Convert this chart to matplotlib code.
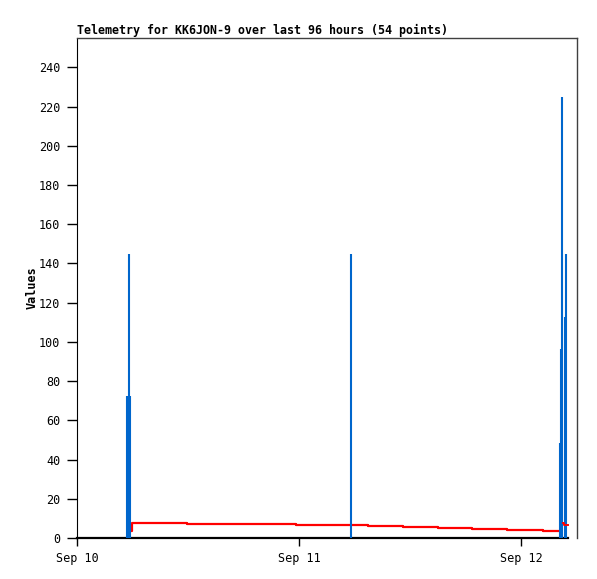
import matplotlib
matplotlib.use("Agg")
import matplotlib.pyplot as plt
import matplotlib.dates as mdates
import pandas as pd

# blue impulses
imp_times = pd.to_datetime([
    "2023-09-10 05:26", "2023-09-10 05:35", "2023-09-10 05:44",
    "2023-09-11 05:35",
    "2023-09-12 04:09", "2023-09-12 04:16", "2023-09-12 04:24",
    "2023-09-12 04:42", "2023-09-12 04:50",
])
imp_values = [72.5, 145, 72.5, 145, 48.5, 96.5, 225, 112.5, 145]

# red stepped series
red_times = pd.to_datetime([
    "2023-09-10 05:48", "2023-09-10 05:55", "2023-09-10 11:51", "2023-09-10 23:39",
    "2023-09-11 07:25", "2023-09-11 11:12", "2023-09-11 14:59", "2023-09-11 18:40",
    "2023-09-11 22:27", "2023-09-12 02:20", "2023-09-12 04:04",
])
red_values = [3.7, 7.66, 7.15, 6.38, 5.87, 5.36, 4.85, 4.34, 3.83, 3.32, 3.32]

red_tail_times = pd.to_datetime(["2023-09-12 04:31", "2023-09-12 04:36", "2023-09-12 05:03"])
red_tail_values = [7.7, 6.6, 6.6]

# black zero series
zero_times = pd.to_datetime(["2023-09-10 00:00", "2023-09-12 05:03"])
zero_values = [0, 0]

xmin = pd.Timestamp("2023-09-10 00:00")
xmax = pd.Timestamp("2023-09-12 06:00")

mono = "DejaVu Sans Mono"

fig = plt.figure(figsize=(5.97, 5.79), dpi=100)
ax = fig.add_axes([77 / 597, 41 / 579, 500 / 597, 500 / 579])

ax.plot(zero_times, zero_values, color="black", linewidth=1.6, zorder=2, clip_on=False)
ax.plot(red_times, red_values, color="#ff0000", linewidth=1.6, drawstyle="steps-post", zorder=3)
ax.plot(red_tail_times, red_tail_values, color="#ff0000", linewidth=1.4, drawstyle="steps-post", zorder=5)
ax.vlines(imp_times, 0, imp_values, color="#0066cc", linewidth=1.5, zorder=4)

ax.set_xlim(xmin, xmax)
ax.set_ylim(0, 255)
ax.set_yticks(range(0, 241, 20))
ax.xaxis.set_major_locator(mdates.DayLocator())
ax.xaxis.set_major_formatter(mdates.DateFormatter("%b %d"))

for s in ["top", "right"]:
    ax.spines[s].set_color("#404040")
    ax.spines[s].set_linewidth(1.0)
ax.spines["left"].set_color("black")
ax.spines["bottom"].set_visible(False)

ax.tick_params(axis="y", length=7, width=1, pad=5, labelsize=8.5, colors="black")
ax.tick_params(axis="x", length=6, width=1, pad=4, labelsize=8.5, colors="black")
for lab in ax.get_xticklabels() + ax.get_yticklabels():
    lab.set_family(mono)

ax.set_ylabel("Values", fontfamily=mono, fontweight="bold", fontsize=8.5, labelpad=0)
ax.set_title("Telemetry for KK6JON-9 over last 96 hours (54 points)", loc="left",
             fontfamily=mono, fontweight="bold", fontsize=8.4, pad=3)

fig.savefig("out.png", dpi=100)
